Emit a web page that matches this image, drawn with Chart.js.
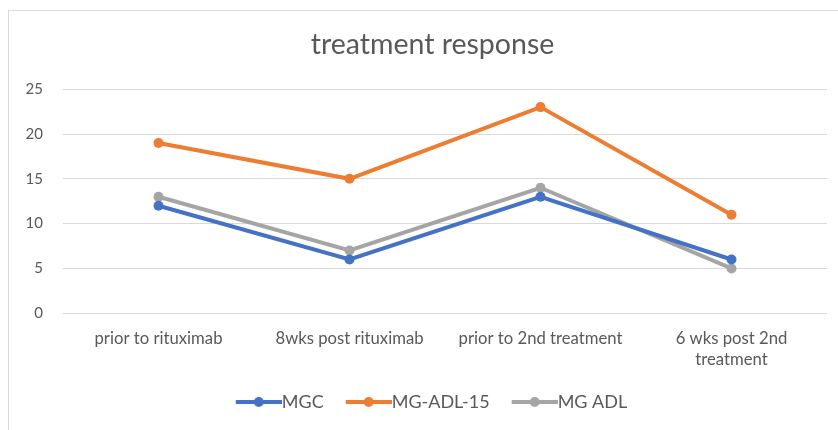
<!DOCTYPE html>
<html>
<head>
<meta charset="utf-8">
<script src="https://cdn.jsdelivr.net/npm/chart.js@4"></script>
<style>
  html, body { margin: 0; padding: 0; background: #fff; overflow: hidden; }
  #frame {
    position: absolute; left: 8px; top: 10px;
    width: 860px; height: 460px;
    border: 1px solid #d9d9d9;
    box-sizing: border-box;
  }
  #wrap { position: absolute; left: 0; top: 0; width: 829px; height: 410px; }
</style>
</head>
<body>
<div id="frame"><div id="wrap"><canvas id="chart"></canvas></div></div>
<script>
const categories = [
  'prior to rituximab',
  '8wks post rituximab',
  'prior to 2nd treatment',
  ['6 wks post 2nd', 'treatment']
];
const mgc = [12, 6, 13, 6];
const mgAdl15 = [19, 15, 23, 11];
const mgAdl = [13, 7, 14, 5];
const seriesNames = ['MGC', 'MG-ADL-15', 'MG ADL'];
const seriesColors = ['#4472C4', '#ED7D31', '#A5A5A5'];

const legendFontSize = 18;
const legendBoxWidth = 47;

// excel style legend sample: thick line with a dot in the middle,
// left part of the image is left empty so the line touches the text
function legendIcon(color) {
  const c = document.createElement('canvas');
  c.width = legendBoxWidth + legendFontSize; c.height = 12;
  const g = c.getContext('2d');
  const x0 = c.width - 46;
  g.strokeStyle = color;
  g.lineWidth = 4;
  g.beginPath();
  g.moveTo(x0, 6); g.lineTo(c.width, 6);
  g.stroke();
  g.fillStyle = color;
  g.beginPath();
  g.arc(x0 + 23, 6, 5, 0, Math.PI * 2);
  g.fill();
  return c;
}

// nudge the title a little to the right, like the excel original
const titleShift = {
  id: 'titleShift',
  afterLayout(chart) {
    const t = chart.titleBlock;
    if (t) { t.left += 6; t.right += 6; }
  }
};

const font = "Lato, 'Open Sans', sans-serif";
const textColor = '#595959';

document.addEventListener('DOMContentLoaded', () => {
  const makeSet = (i, data) => ({
    label: seriesNames[i],
    data: data,
    borderColor: seriesColors[i],
    backgroundColor: seriesColors[i],
    borderWidth: 4,
    pointRadius: 5,
    pointHoverRadius: 5,
    pointBorderWidth: 0,
    pointStyle: 'circle',
    tension: 0
  });

  new Chart(document.getElementById('chart'), {
    type: 'line',
    data: {
      labels: categories,
      datasets: [makeSet(0, mgc), makeSet(1, mgAdl15), makeSet(2, mgAdl)]
    },
    plugins: [titleShift],
    options: {
      responsive: true,
      maintainAspectRatio: false,
      animation: false,
      layout: { padding: { left: 17, right: 11, top: 0, bottom: 0 } },
      plugins: {
        title: {
          display: true,
          text: 'treatment response',
          color: textColor,
          font: { family: font, size: 28.5, weight: 'normal', lineHeight: 1.2 },
          padding: { top: 17, bottom: 27 }
        },
        legend: {
          position: 'bottom',
          labels: {
            color: textColor,
            font: { family: font, size: legendFontSize },
            usePointStyle: true,
            pointStyleWidth: legendBoxWidth,
            padding: 12,
            generateLabels: (chart) => chart.data.datasets.map((ds, i) => ({
              text: ds.label,
              fontColor: textColor,
              pointStyle: legendIcon(seriesColors[i]),
              datasetIndex: i,
              hidden: false,
              lineWidth: 0
            }))
          }
        },
        tooltip: { enabled: false }
      },
      scales: {
        x: {
          offset: true,
          afterFit: (scale) => { scale.height -= 4; },
          grid: { display: false, drawTicks: false },
          border: { display: false },
          ticks: {
            color: textColor,
            font: { family: font, size: 16.7, lineHeight: 1.25 },
            padding: 15,
            maxRotation: 0,
            autoSkip: false
          }
        },
        y: {
          min: 0,
          max: 25,
          afterFit: (scale) => { scale.width = 37; },
          grid: { color: '#d9d9d9', lineWidth: 1, drawTicks: false },
          border: { display: false },
          ticks: {
            stepSize: 5,
            color: textColor,
            font: { family: font, size: 15 },
            padding: 20
          }
        }
      }
    }
  });
});
</script>
</body>
</html>
